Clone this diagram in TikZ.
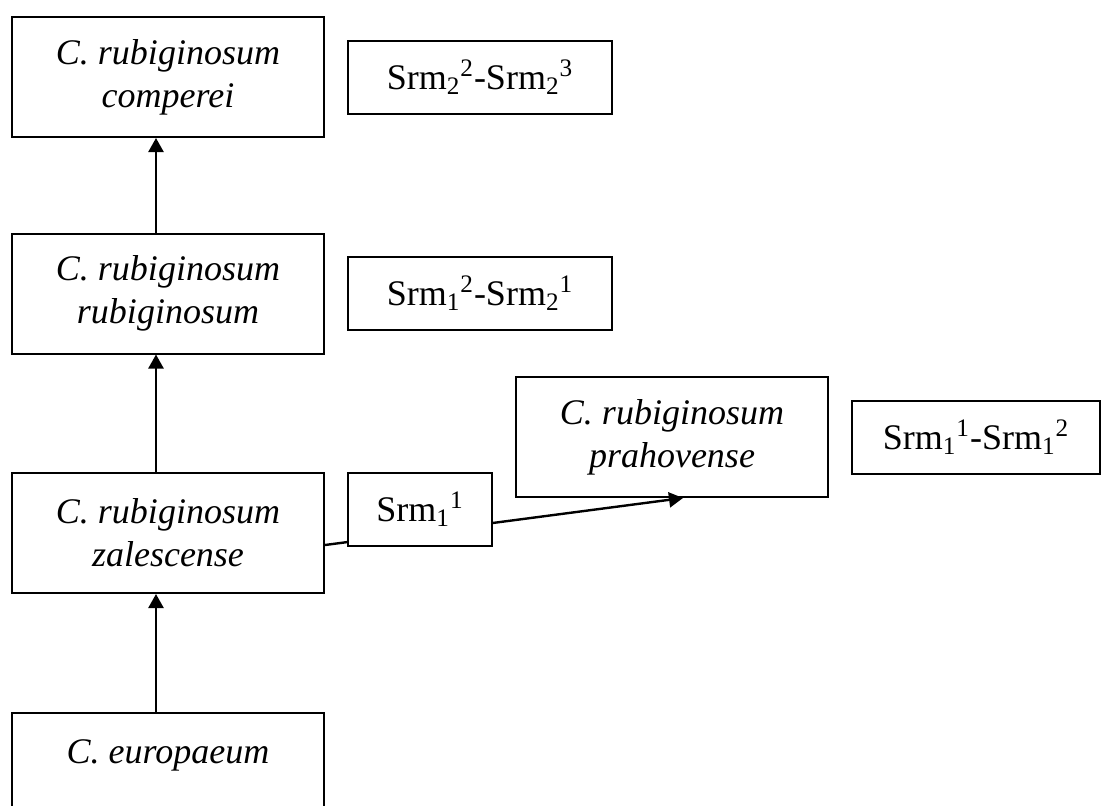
\documentclass[tikz,border=0pt]{standalone}
\usepackage{fontspec}
\setmainfont{Liberation Serif}
\usetikzlibrary{arrows.meta}

\begin{document}
\begin{tikzpicture}[x=0.5pt,y=-0.5pt,
  taxon/.style={draw,line width=1pt,minimum width=156pt,minimum height=60pt,inner sep=0pt,align=center,font=\fontsize{18}{21.5}\selectfont\itshape},
  marker/.style={draw,line width=1pt,fill=white,minimum height=36.5pt,inner sep=0pt,font=\fontsize{18}{21.5}\selectfont},
  link/.style={line width=1.2pt,-{Triangle[length=7pt,width=7.5pt]}}]
\useasboundingbox (0,0) rectangle (1104,805);
%\draw[step=50,gray,very thin] (0,0) grid (1104,805); %background grid
\node[taxon] (comperei) at (168,77) {C. rubiginosum\\comperei};
\node[taxon] (rubiginosum) at (168,293.5) {C. rubiginosum\\rubiginosum};
\node[taxon] (zalescense) at (168,533) {C. rubiginosum\\zalescense};
\node[taxon] (europaeum) at (168,773) {C. europaeum\\\mbox{}};
\node[taxon] (prahovense) at (672,437) {C. rubiginosum\\prahovense};
\node[marker,minimum width=132pt] (srm23) at (480,77.5) {Srm\textsubscript{2}\textsuperscript{2}-Srm\textsubscript{2}\textsuperscript{3}};
\node[marker,minimum width=132pt] (srm21) at (480,293) {Srm\textsubscript{1}\textsuperscript{2}-Srm\textsubscript{2}\textsuperscript{1}};
\node[marker,minimum width=124pt] (srm12) at (976,437.5) {Srm\textsubscript{1}\textsuperscript{1}-Srm\textsubscript{1}\textsuperscript{2}};
\coordinate (stem) at (156,0);
\draw[link] (europaeum.north -| stem) -- (zalescense.south -| stem);
\draw[link] (zalescense.north -| stem) -- (rubiginosum.south -| stem);
\draw[link] (rubiginosum.north -| stem) -- (comperei.south -| stem);
\draw[link] ([yshift=-6pt]zalescense.east) -- ([xshift=5.5pt]prahovense.south);
\node[marker,minimum width=72pt] (srm11) at (420,509) {Srm\textsubscript{1}\textsuperscript{1}};
\end{tikzpicture}
\end{document}
